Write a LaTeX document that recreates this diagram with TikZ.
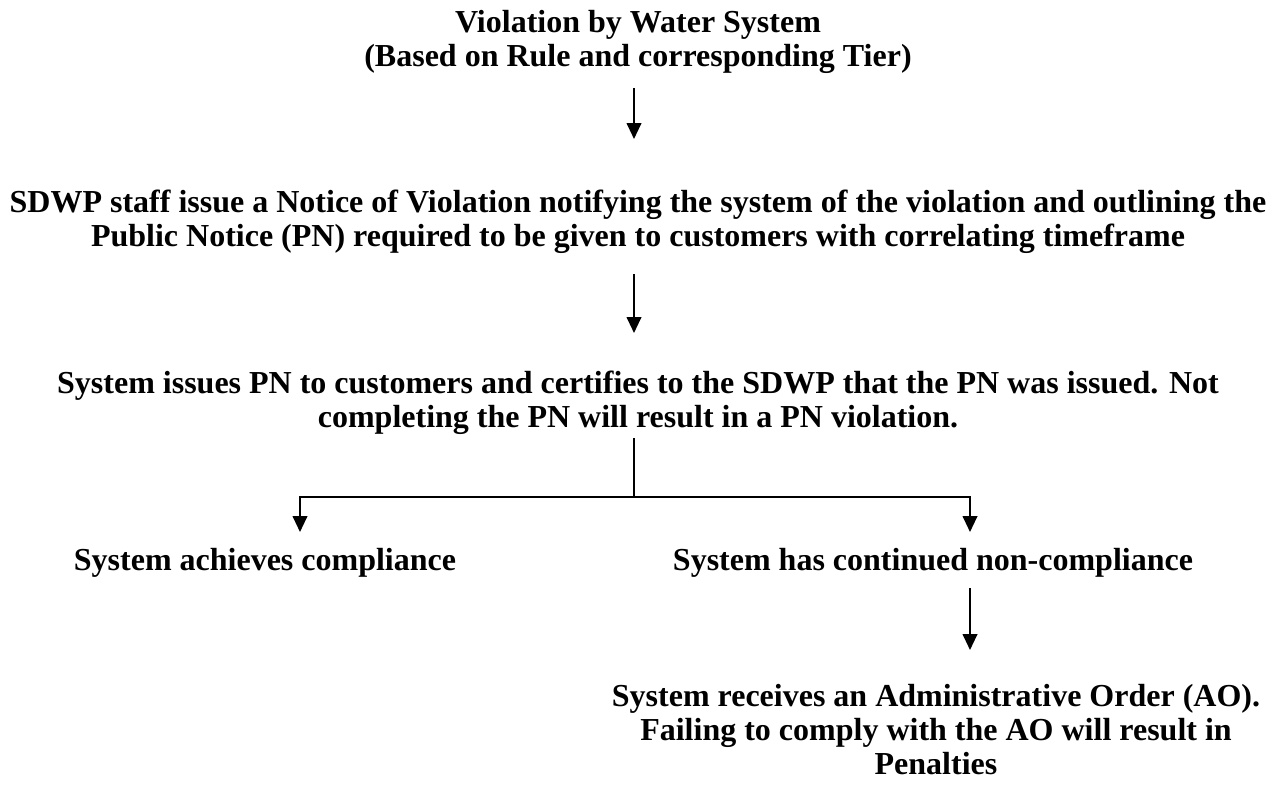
\documentclass[tikz,border=0pt]{standalone}
\usepackage{fontspec}
\setmainfont{Liberation Serif}
\usetikzlibrary{arrows.meta}
\newcommand{\fl}{\rule{0pt}{18pt}}
\begin{document}
\begin{tikzpicture}[x=0.75pt,y=-0.75pt,
  txt/.style={inner sep=0pt,anchor=north,align=center,font=\fontsize{24}{25.5}\selectfont\bfseries},
  arr/.style={line width=1.5pt,-{Triangle[width=11pt,length=12pt]}},
  ln/.style={line width=1.5pt}]
\useasboundingbox (0,0) rectangle (1278,792);
\node[txt] (t1) at (638,8) {\fl Violation by Water System\\(Based on Rule and corresponding Tier)};
\node[txt] (t2) at (638,188) {\fl SDWP staff issue a Notice of Violation notifying the system of the violation and outlining the\\Public Notice (PN) required to be given to customers with correlating timeframe};
\node[txt] (t3) at (638,369) {\fl System issues PN to customers and certifies to the SDWP that the PN was issued. Not\\completing the PN will result in a PN violation.};
\node[txt] (l) at (265,546) {\fl System achieves compliance};
\node[txt] (r) at (933,546) {\fl System has continued non-compliance};
\node[txt] (t4) at (936,682) {\fl System receives an Administrative Order (AO).\\Failing to comply with the AO will result in\\Penalties};
\coordinate (j) at (634,497);
\draw[arr] (j |- 0,88) -- (j |- 0,139);
\draw[arr] (j |- 0,274) -- (j |- 0,333);
\draw[ln] (j |- 0,438) -- (j);
\draw[arr] (j) -| (300,532) coordinate (la);
\draw[arr] (j) -| (970,532) coordinate (ra);
\draw[arr] (ra |- 0,588) -- (ra |- 0,650);
\end{tikzpicture}
\end{document}
